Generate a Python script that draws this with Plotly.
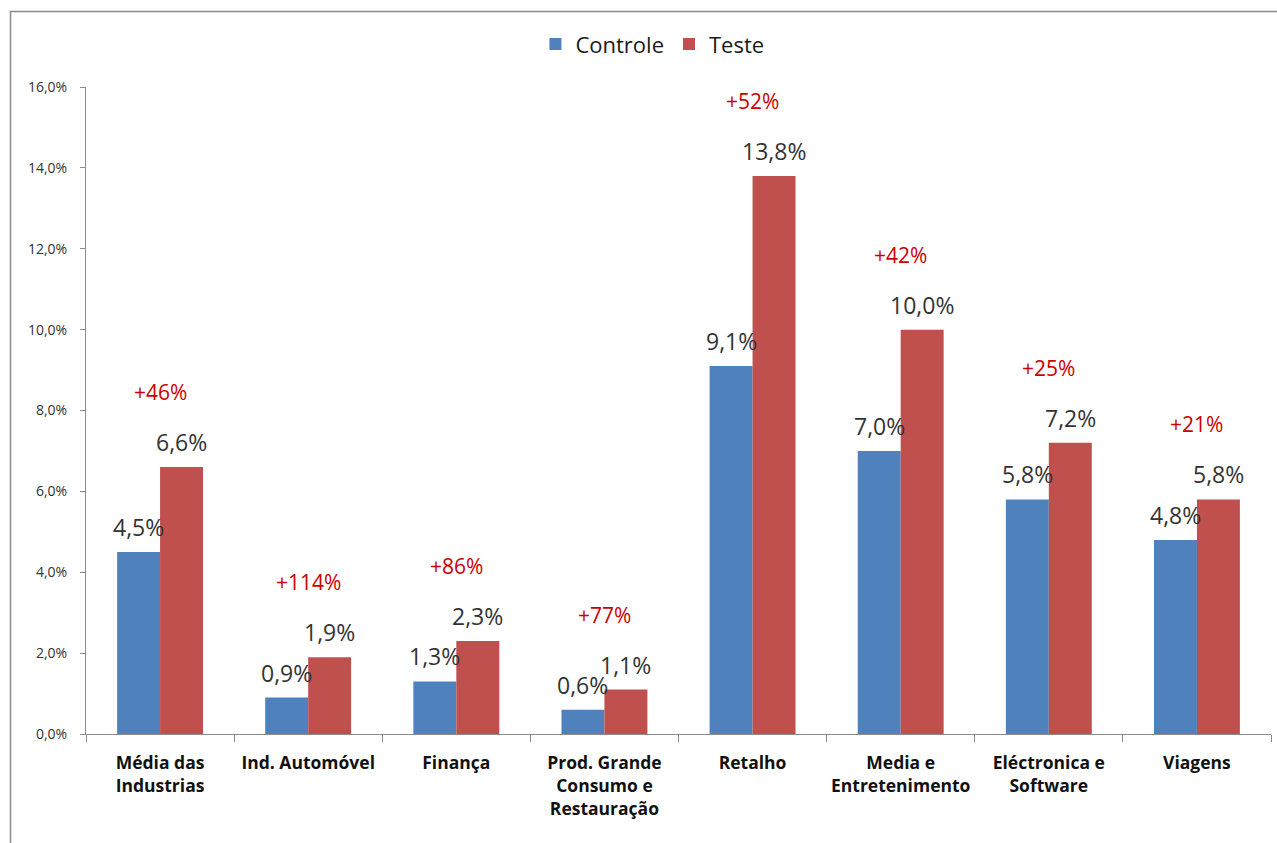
import plotly.graph_objects as go

# Conversion rate by industry, control vs. test group (in %)
categories = [
    "Média das<br>Industrias",
    "Ind. Automóvel",
    "Finança",
    "Prod. Grande<br>Consumo e<br>Restauração",
    "Retalho",
    "Media e<br>Entretenimento",
    "Eléctronica e<br>Software",
    "Viagens",
]
controle = [4.5, 0.9, 1.3, 0.6, 9.1, 7.0, 5.8, 4.8]
teste = [6.6, 1.9, 2.3, 1.1, 13.8, 10.0, 7.2, 5.8]
uplift = ["+46%", "+114%", "+86%", "+77%", "+52%", "+42%", "+25%", "+21%"]
y_ticks = [0, 2, 4, 6, 8, 10, 12, 14, 16]

BLUE = "#4F81BD"
RED = "#C0504D"
FONT = "Open Sans"

# plot-area geometry (pixels) used to offset labels onto each bar
W, H = 1277, 843
M_L, M_R, M_T, M_B = 86, 6, 87, 109
BARGAP = 0.42
plot_w = W - M_L - M_R
cat_px = plot_w / len(categories)
bar_px = cat_px * (1 - BARGAP) / 2


def pct(v):
    return f"{v:.1f}%".replace(".", ",")


fig = go.Figure()
fig.add_bar(name="Controle", x=categories, y=controle, marker_color=BLUE,
            marker_line_width=0)
fig.add_bar(name="Teste", x=categories, y=teste, marker_color=RED,
            marker_line_width=0)

annotations = []
for cat, c, t, u in zip(categories, controle, teste, uplift):
    annotations.append(dict(x=cat, y=c, text=pct(c), xshift=-bar_px / 2, yshift=25,
                            showarrow=False, font=dict(family=FONT, size=23, color="#333333")))
    annotations.append(dict(x=cat, y=t, text=pct(t), xshift=bar_px / 2, yshift=25,
                            showarrow=False, font=dict(family=FONT, size=23, color="#333333")))
    annotations.append(dict(x=cat, y=t, text=u, xshift=0, yshift=75,
                            showarrow=False, font=dict(family=FONT, size=21, color="#CC0000")))

fig.update_layout(
    width=W, height=H,
    margin=dict(l=M_L, r=M_R, t=M_T, b=M_B, pad=0),
    paper_bgcolor="white", plot_bgcolor="white",
    barmode="group", bargap=BARGAP, bargroupgap=0,
    font=dict(family=FONT, color="#333333"),
    showlegend=True,
    legend=dict(orientation="h", x=0.478, xanchor="center", y=1.066, yanchor="middle",
                font=dict(family=FONT, size=22, color="#1a1a1a"), itemwidth=30,
                bgcolor="rgba(0,0,0,0)"),
    annotations=annotations,
    shapes=[dict(type="rect", xref="paper", yref="paper",
                 x0=(10.5 - M_L) / plot_w, x1=1.05,
                 y0=-0.3, y1=1 + (M_T - 11.5) / (H - M_T - M_B),
                 line=dict(color="#8a8a8a", width=1.5), fillcolor="rgba(0,0,0,0)",
                 layer="below")],
)

fig.update_xaxes(
    type="category", showline=True, linecolor="#8c8c8c", linewidth=1.2,
    ticks="outside", tickson="boundaries", ticklen=7, tickcolor="#8c8c8c",
    tickfont=dict(family=FONT, size=17.5, color="#111111", weight="bold"),
    tickangle=0, automargin=False,
    ticklabelstandoff=13, showgrid=False, zeroline=False,
)
fig.update_yaxes(
    range=[0, 16], tickvals=y_ticks, ticktext=[pct(v) for v in y_ticks],
    showline=True, linecolor="#8c8c8c", linewidth=1.2,
    ticks="outside", ticklen=5, tickcolor="#8c8c8c",
    tickfont=dict(family=FONT, size=14, color="#333333"), automargin=False,
    ticklabelstandoff=10, showgrid=False, zeroline=False,
)

fig.write_html("out.html")
